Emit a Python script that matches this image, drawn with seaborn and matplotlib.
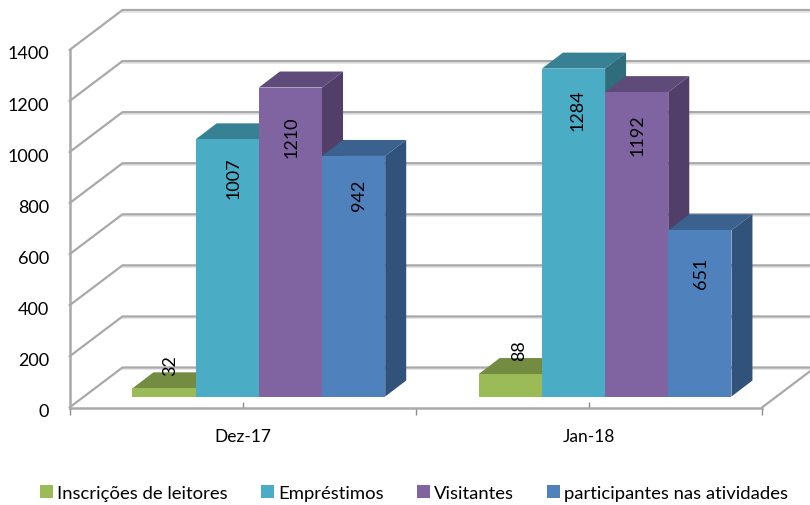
import matplotlib
matplotlib.use('Agg')
import matplotlib.pyplot as plt
from matplotlib.patches import Polygon
from matplotlib.transforms import Affine2D
import pandas as pd
import seaborn as sns

months = ['Dez-17', 'Jan-18']
series = ['Inscrições de leitores', 'Empréstimos', 'Visitantes', 'participantes nas atividades']
inscricoes = [32, 88]
emprestimos = [1007, 1284]
visitantes = [1210, 1192]
participantes = [942, 651]
y_ticks = [0, 200, 400, 600, 800, 1000, 1200, 1400]

front_colors = ['#9BBB59', '#4BACC6', '#8064A2', '#4F81BD']
top_colors = ['#748C42', '#388194', '#5F4B79', '#3B618E']
side_colors = ['#60743A', '#2F6C7C', '#523F69', '#31527A']
grid_color = '#A9A9A9'

# px offset of each data label from the top centre of its bar (same order as the bars, left to right)
label_offsets = [(6, 24), (6, -38), (1, -49), (5, -38), (9, 24), (4, -41), (1, -42), (1, -42)]

df = pd.DataFrame({
    'mes': months * 4,
    'serie': [s for s in series for _ in months],
    'valor': inscricoes + emprestimos + visitantes + participantes,
})

sns.set_style('white')
plt.rcParams['font.family'] = ['Lato', 'DejaVu Sans']

W, H = 810, 506
fig = plt.figure(figsize=(W / 100, H / 100), dpi=100)
ax = fig.add_axes([69.5 / W, 1 - 408.5 / H, 692.5 / W, 357.5 / H])

sns.barplot(data=df, x='mes', y='valor', hue='serie', order=months, hue_order=series,
            palette=front_colors, saturation=1, width=0.73, linewidth=0, ax=ax)
ax.set_xlim(-0.5, 1.5)
ax.set_ylim(0, 1400)

# px -> data units
ux = 2 / 692.5
uy = 1400 / 357.5
wall_x, wall_y = 53 * ux, 40 * uy
plane_x, plane_y = 16.2 * ux, 11 * uy
depth_x, depth_y = 21 * ux, 16 * uy

# back wall and floor lines
for v in y_ticks:
    ax.plot([-0.5, -0.5 + wall_x, 1.5 + wall_x], [v, v + wall_y, v + wall_y],
            color=grid_color, lw=1.6, clip_on=False, zorder=1)
    ax.plot([-0.5 + wall_x, 1.5 + wall_x], [v + wall_y - 1.6 * uy] * 2,
            color='#E2E2E2', lw=1.2, clip_on=False, zorder=0.9)
ax.plot([1.5, 1.5 + wall_x], [0, wall_y], color=grid_color, lw=1.6, clip_on=False, zorder=1)

# move the bars onto their own plane and give them the 3d faces
bars = sorted(ax.patches, key=lambda p: p.get_x())
bars = [b for b in bars if b.get_height() > 0]
for i, bar in enumerate(bars):
    color_i = i % 4
    bar.set_x(bar.get_x() + plane_x)
    bar.set_y(plane_y)
    bar.set_clip_on(False)
    bar.set_zorder(3 + i + 0.5)
    x0, x1 = bar.get_x(), bar.get_x() + bar.get_width()
    y0, y1 = plane_y, plane_y + bar.get_height()
    ax.add_patch(Polygon([(x0, y1), (x1, y1), (x1 + depth_x, y1 + depth_y), (x0 + depth_x, y1 + depth_y)],
                         closed=True, fc=top_colors[color_i], ec='none', clip_on=False, zorder=3 + i))
    ax.add_patch(Polygon([(x1, y0), (x1, y1), (x1 + depth_x, y1 + depth_y), (x1 + depth_x, y0 + depth_y)],
                         closed=True, fc=side_colors[color_i], ec='none', clip_on=False, zorder=3 + i))
    ax.annotate(f'{bar.get_height():.0f}', ((x0 + x1) / 2, y1), xytext=label_offsets[i],
                textcoords='offset pixels', rotation=90, ha='center', va='center',
                fontsize=13, color='black', annotation_clip=False, zorder=40)

sns.despine(ax=ax, top=True, right=True)
for side in ['left', 'bottom']:
    ax.spines[side].set_color(grid_color)
    ax.spines[side].set_linewidth(1.8)

ax.set_xlabel('')
ax.set_ylabel('')
ax.set_yticks(y_ticks)
ax.tick_params(axis='y', length=0, pad=14.5, labelsize=13, labelcolor='black')
ax.set_xticks([0, 1])
ax.set_xticks([-0.5, 0.5, 1.5], minor=True)
ax.tick_params(axis='x', which='major', bottom=True, direction='in', length=4, width=1, color='#8C8C8C',
               pad=15, labelsize=12.5, labelcolor='black')
ax.tick_params(axis='x', which='minor', bottom=True, direction='out', length=5, width=1, color='#8C8C8C')

fig.canvas.draw()
for label in ax.get_yticklabels():
    label.set_transform(label.get_transform() + Affine2D().translate(0, -2))

handles, labels = ax.get_legend_handles_labels()
ax.get_legend().remove()
fig.legend(handles, labels, loc='center', bbox_to_anchor=(414 / W, 1 - 494 / H), ncol=4, frameon=False,
           fontsize=13.3, handlelength=0.72, handleheight=0.72, handletextpad=0.2, columnspacing=1.8,
           labelcolor='black')

fig.savefig('out.png', dpi=100)
